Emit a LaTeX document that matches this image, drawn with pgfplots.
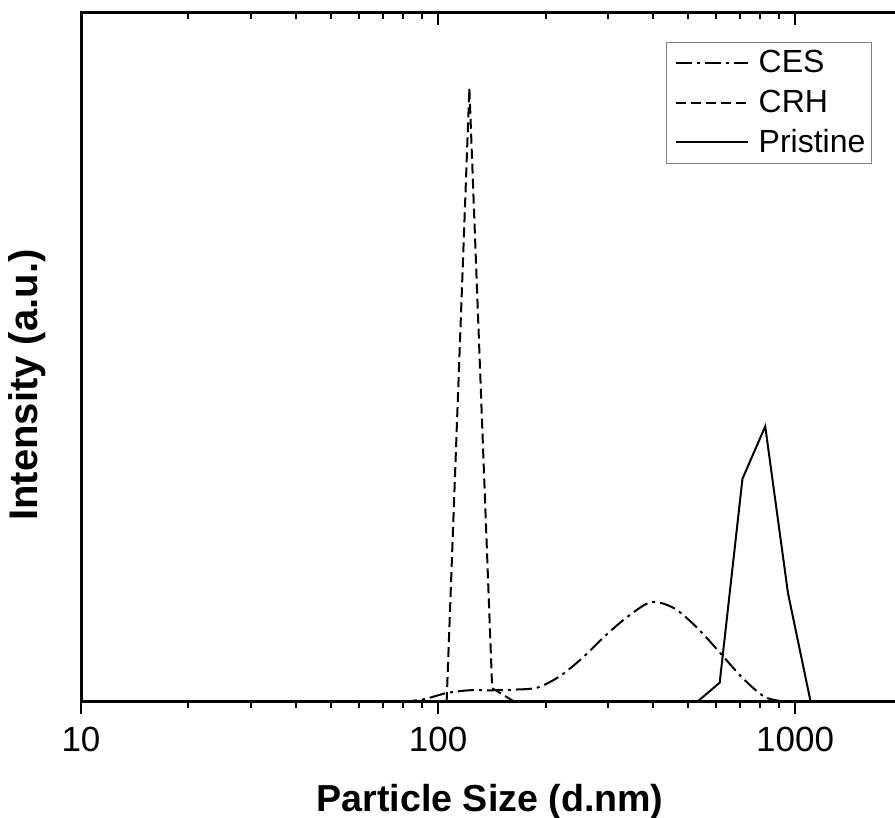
\documentclass[border=0pt]{standalone}
\usepackage{fontspec}
\setmainfont{Liberation Sans}
\usepackage{pgfplots}
\pgfplotsset{compat=1.18}
\usetikzlibrary{calc}

\tikzset{
  ces/.style={black, line width=1pt, dash pattern=on 8pt off 2.5pt on 1.5pt off 2.5pt},
  crh/.style={black, line width=1pt, dash pattern=on 5pt off 2.5pt},
  pri/.style={black, line width=1pt},
}

\pgfplotstableread{
x      y
78.82  0
91.28  0.4
105.7  1.3
122.4  1.7
141.8  1.7
164.2  1.8
190.1  2.1
220.2  3.8
255.0  6.5
295.3  9.7
342.0  12.5
396.1  14.5
458.7  13.6
531.2  10.8
615.1  7.2
712.4  3.5
825.0  0.7
955.4  0
}\cesdata

\pgfplotstableread{
x      y
105.7  0
122.4  89.1
141.8  2.0
164.2  0
}\crhdata

\pgfplotstableread{
x      y
531.2  0
615.1  2.8
712.4  32.4
825.0  40.0
955.4  15.8
1106   0
}\pridata

\begin{document}
\begin{tikzpicture}
\begin{axis}[
  name=main,
  xmode=log, xmin=10, xmax=2000, ymin=0, ymax=100,
  scale only axis, width=410.75pt, height=344.5pt,
  ytick=\empty,
  axis line style={line width=1.5pt},
  major tick style={black, line width=1pt},
  minor tick style={black, line width=1pt},
  major tick length=6pt, minor tick length=3pt,
  xtick pos=left, tick align=outside,
  xtick={10,100,1000}, xticklabels={10,100,1000},
  xticklabel style={font=\fontsize{17.5}{21}\selectfont, yshift=-3pt},
  xlabel={Particle Size (d.nm)},
  xlabel style={font=\fontsize{18.8}{22}\selectfont\bfseries,
    at={(axis description cs:0.498,0)}, anchor=center, yshift=-50pt},
  ylabel={Intensity (a.u.)},
  ylabel style={font=\fontsize{20}{24}\selectfont\bfseries,
    at={(axis description cs:-0.0657,0.46)}, anchor=center},
  legend style={draw=gray, line width=0.6pt,
    font=\fontsize{16}{19}\selectfont,
    at={(axis description cs:0.9629,0.9579)}, anchor=north east,
    inner xsep=1pt, inner ysep=2pt, row sep=3pt},
  legend cell align=left,
  legend image code/.code={\path (-3pt,0pt); \draw[#1] (0pt,0pt) -- (36pt,0pt); \path (39pt,0pt);},
]
\addplot[ces, smooth, tension=0.5] table[x=x,y=y] {\cesdata};
\addlegendentry{CES}
\addplot[crh] table[x=x,y=y] {\crhdata};
\addlegendentry{CRH}
\addplot[pri] table[x=x,y=y] {\pridata};
\addlegendentry{Pristine}
\end{axis}
\begin{axis}[
  xmode=log, xmin=10, xmax=2000, ymin=0, ymax=100,
  scale only axis, width=410.75pt, height=344.5pt,
  axis x line*=top, axis y line=none,
  axis line style={line width=1.5pt},
  major tick style={black, line width=1pt},
  minor tick style={black, line width=1pt},
  major tick length=6pt, minor tick length=3pt,
  tick align=inside,
  xtick={10,100,1000}, xticklabels={},
]
\end{axis}
\pgfresetboundingbox
\path[use as bounding box] ($(main.south west)+(-40.5pt,-58pt)$) rectangle ($(main.south west)+(407pt,351pt)$);
\end{tikzpicture}
\end{document}
